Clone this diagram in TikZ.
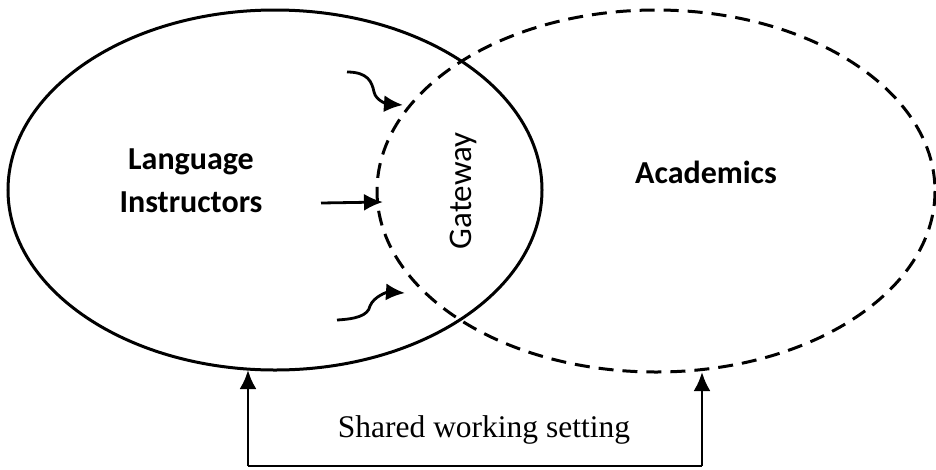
\documentclass[tikz,border=0pt]{standalone}
\usepackage{fontspec}
\setmainfont{Liberation Serif}
\newfontfamily\calib{Carlito}
\usetikzlibrary{arrows.meta}

\begin{document}
\begin{tikzpicture}[x=1pt, y=-1pt, line width=2.8pt,
        tip/.style={-{Latex[length=19pt, width=17pt]}}]
        \useasboundingbox (0, 0) rectangle (936, 469);

        \coordinate (LC) at (275, 190);
        \coordinate (RC) at (656, 191);

        \draw[line width=3pt] (LC) ellipse[x radius=267, y radius=180];
        \draw[line width=3pt, dash pattern=on 15pt off 9pt] (RC) ellipse[x radius=279, y radius=181];

        \node[font=\calib\bfseries\fontsize{32}{43}\selectfont, align=center] (LI) at (191, 181) {Language\\Instructors};
        \node[font=\calib\bfseries\fontsize{32}{43}\selectfont] (AC) at (706, 172) {Academics};
        \node[font=\calib\fontsize{33}{38}\selectfont, rotate=90] (GW) at (463, 191) {Gateway};
        \node[font=\fontsize{31.5}{36}\selectfont] (SW) at (484, 430) {Shared working setting};

        \coordinate (T1) at (347, 72);
        \coordinate (T2) at (403, 105);
        \coordinate (M1) at (321, 203);
        \coordinate (M2) at (383, 202);
        \coordinate (B1) at (337, 320);
        \coordinate (B2) at (405, 293);

        \draw[tip] (T1) .. controls (368, 72) and (372, 82) .. (374, 92)
            .. controls (376, 101) and (388, 104) .. (T2);
        \draw[tip] (M1) -- (M2);
        \draw[tip] (B1) .. controls (355, 319) and (368, 316) .. (370, 306)
            .. controls (374, 296) and (388, 292) .. (B2);

        \coordinate (LB) at (248, 370);
        \coordinate (RB) at (702, 372);
        \coordinate (LL) at (248, 466);
        \coordinate (RL) at (702, 466);

        \draw[tip] (LL) -- (LB);
        \draw[tip] (RL) -- (RB);
        \draw (LL) -- (RL);
\end{tikzpicture}
\end{document}
